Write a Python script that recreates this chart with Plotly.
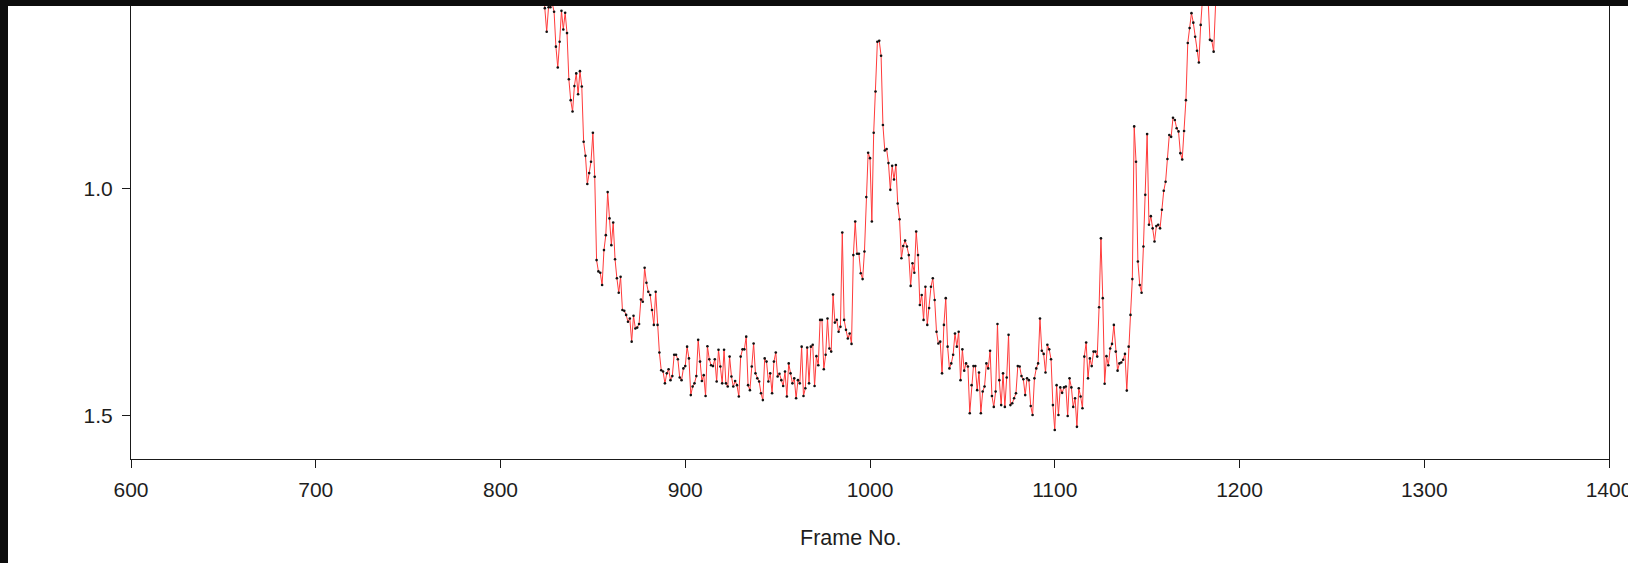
import plotly.graph_objects as go

# ---- data (frame number -> value) ----
start_a = 822
values_a = [0.50, 0.55, 0.601, 0.653, 0.599, 0.599, 0.590, 0.609, 0.686, 0.732,
            0.675, 0.607, 0.648, 0.611, 0.656, 0.758, 0.804, 0.829, 0.773, 0.745,
            0.791, 0.740, 0.774, 0.896, 0.927, 0.989, 0.965, 0.940, 0.876, 0.973,
            1.157, 1.182, 1.185, 1.212, 1.135, 1.102, 1.007, 1.065, 1.124, 1.074,
            1.155, 1.197, 1.229, 1.194, 1.267, 1.269, 1.278, 1.293, 1.286, 1.337,
            1.280, 1.308, 1.306, 1.298, 1.244, 1.249, 1.174, 1.207, 1.227, 1.234,
            1.267, 1.300, 1.227, 1.300, 1.361, 1.400, 1.403, 1.429, 1.407, 1.398,
            1.422, 1.413, 1.366, 1.366, 1.376, 1.416, 1.422, 1.396, 1.391, 1.348,
            1.374, 1.455, 1.436, 1.429, 1.413, 1.333]

start_b = 908
values_b = [1.381, 1.424, 1.411, 1.457, 1.347, 1.376, 1.389, 1.391, 1.376, 1.425,
            1.355, 1.392, 1.429, 1.355, 1.429, 1.436, 1.370, 1.414, 1.436, 1.424,
            1.433, 1.458, 1.370, 1.354, 1.354, 1.326, 1.433, 1.444, 1.392, 1.341,
            1.407, 1.418, 1.425, 1.451, 1.466, 1.374, 1.381, 1.425, 1.407, 1.451,
            1.381, 1.361, 1.414, 1.408, 1.422, 1.435, 1.403, 1.458, 1.385, 1.407,
            1.429, 1.418, 1.462, 1.422, 1.429, 1.348, 1.457, 1.440, 1.350, 1.429,
            1.348, 1.344, 1.435, 1.369, 1.389, 1.289, 1.289, 1.398, 1.366, 1.286,
            1.352, 1.359, 1.233, 1.295, 1.289, 1.315, 1.304, 1.096, 1.289, 1.311,
            1.330, 1.319, 1.342, 1.146, 1.072, 1.143]

start_c = 994
values_c = [1.143, 1.186, 1.199, 1.138, 1.018, 0.920, 0.932, 1.072, 0.876, 0.785,
            0.675, 0.673, 0.706, 0.859, 0.915, 0.912, 0.943, 1.002, 0.949, 0.979,
            0.947, 1.032, 1.067, 1.153, 1.126, 1.114, 1.127, 1.146, 1.214, 1.164,
            1.185, 1.094, 1.146, 1.256, 1.234, 1.289, 1.216, 1.300, 1.263, 1.216,
            1.197, 1.245, 1.315, 1.341, 1.337, 1.407, 1.300, 1.241, 1.348, 1.396,
            1.385, 1.366, 1.319, 1.348, 1.315, 1.422, 1.354, 1.401, 1.385, 1.392,
            1.495, 1.433, 1.391, 1.391, 1.444, 1.405, 1.495, 1.447, 1.436, 1.385,
            1.396, 1.357, 1.457, 1.481, 1.447, 1.298, 1.422, 1.477, 1.407, 1.481,
            1.416, 1.322, 1.477, 1.473, 1.462, 1.451, 1.391]

start_d = 1081
values_d = [1.392, 1.413, 1.420, 1.455, 1.418, 1.422, 1.479, 1.499, 1.418, 1.396,
            1.385, 1.286, 1.357, 1.364, 1.405, 1.344, 1.354, 1.376, 1.477, 1.532,
            1.433, 1.499, 1.438, 1.450, 1.438, 1.436, 1.501, 1.418, 1.438, 1.481,
            1.462, 1.525, 1.440, 1.458, 1.484, 1.370, 1.339, 1.418, 1.374, 1.391,
            1.359, 1.359, 1.370, 1.261, 1.109, 1.241, 1.430, 1.369, 1.389, 1.352,
            1.342, 1.300, 1.359, 1.401, 1.385, 1.383, 1.377, 1.364, 1.445, 1.348,
            1.278, 1.199, 0.862, 0.940]

start_e = 1145
values_e = [1.160, 1.212, 1.229, 1.127, 1.013, 0.879, 1.079, 1.060, 1.087, 1.116,
            1.082, 1.079, 1.087, 1.046, 1.004, 0.984, 0.934, 0.881, 0.885, 0.843,
            0.848, 0.866, 0.873, 0.921, 0.935, 0.872, 0.804, 0.678, 0.645, 0.612,
            0.633, 0.664, 0.695, 0.721, 0.638, 0.560, 0.520, 0.550, 0.580, 0.671,
            0.673, 0.697, 0.550, 0.500]

x_ticks = [600, 700, 800, 900, 1000, 1100, 1200, 1300, 1400]
y_ticks = [1.0, 1.5]
x_title = "Frame No."

frames, values = [], []
for s, vals in [(start_a, values_a), (start_b, values_b), (start_c, values_c),
                (start_d, values_d), (start_e, values_e)]:
    frames += list(range(s, s + len(vals)))
    values += vals

W, H = 1628, 563
ML, MR, MT, MB = 131, 19, 0, 104
PW, PH = W - ML - MR, H - MT - MB

fig = go.Figure()
fig.add_trace(go.Scatter(
    x=frames, y=values, mode="lines+markers",
    line=dict(color="#ff3b3b", width=1),
    marker=dict(color="#111111", size=2.6),
    showlegend=False, hoverinfo="skip",
))

font = dict(family="Arial, Liberation Sans, sans-serif", size=21, color="#1e1e1e")

fig.update_layout(
    width=W, height=H,
    margin=dict(l=ML, r=MR, t=MT, b=MB, pad=0, autoexpand=False),
    paper_bgcolor="white", plot_bgcolor="white",
    font=font,
    xaxis=dict(range=[600, 1400], tickvals=x_ticks, ticks="outside", ticklen=8,
               tickcolor="#1a1a1a", showline=True, linecolor="#1a1a1a", linewidth=1,
               mirror=True, showgrid=False, zeroline=False, automargin=False,
               ticklabeloverflow="allow", ticklabelstandoff=4),
    yaxis=dict(range=[1.596, 0.583], tickvals=y_ticks, ticktext=["1.0", "1.5"],
               ticks="outside", ticklen=8, tickcolor="#1a1a1a",
               ticklabelstandoff=5, automargin=False,
               showline=True, linecolor="#1a1a1a", linewidth=1, mirror=True,
               showgrid=False, zeroline=False),
    annotations=[
        dict(text=x_title, xref="paper", yref="paper",
             x=(851 - ML) / PW, y=-(538 - PH) / PH,
             xanchor="center", yanchor="middle", showarrow=False,
             font=dict(size=21.5)),
    ],
    shapes=[
        dict(type="rect", xref="paper", yref="paper", layer="above",
             x0=-ML / PW, x1=(W - ML) / PW, y0=1 - 6 / PH, y1=1 + 2 / PH,
             fillcolor="#0d0d0d", line=dict(width=0)),
        dict(type="rect", xref="paper", yref="paper", layer="above",
             x0=-ML / PW - 0.01, x1=(8 - ML) / PW, y0=-MB / PH - 0.01, y1=1 + 2 / PH,
             fillcolor="#0d0d0d", line=dict(width=0)),
    ],
)

fig.write_html("out.html")
